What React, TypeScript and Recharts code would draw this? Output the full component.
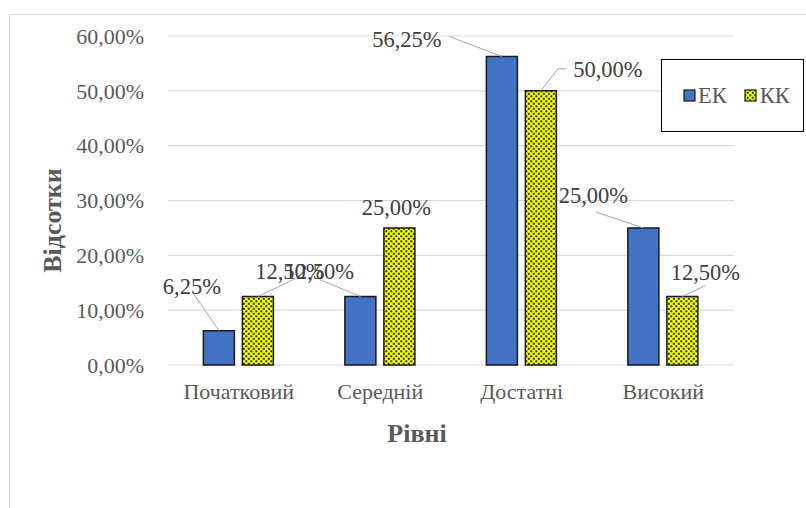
import React from 'react';
import { BarChart, Bar, XAxis, YAxis, CartesianGrid, LabelList } from 'recharts';

const levels = ['Початковий', 'Середній', 'Достатні', 'Високий'];
const ekValues = [6.25, 12.5, 56.25, 25];
const kkValues = [12.5, 25, 50, 12.5];
const yTicks = [0, 10, 20, 30, 40, 50, 60];

// label placement relative to bar top centre: text centre and leader end point
const ekLabelPos = [
  { dx: -27, dy: -44, lx: -26, ly: -38 },
  { dx: -41, dy: -25, lx: -41, ly: -17 },
  { dx: -95, dy: -17, lx: -52, ly: -20 },
  { dx: -50, dy: -32, lx: -48, ly: -16 },
];
const kkLabelPos = [
  { dx: 32, dy: -25, lx: 38, ly: -18 },
  { dx: -3, dy: -20, lx: null, ly: null },
  { dx: 67, dy: -21, lx: 17, ly: -22, elbow: 25 },
  { dx: 23, dy: -24, lx: 23, ly: -11 },
];

const data = levels.map((name, i) => ({ name, ek: ekValues[i], kk: kkValues[i] }));

const fmt = (v: number) => v.toFixed(2).replace('.', ',') + '%';
const FONT = 'Liberation Serif, DejaVu Serif, serif';

const makeLabel = (pos: typeof kkLabelPos) => (props: any) => {
  const { x, y, width, value, index } = props;
  const p = pos[index];
  const cx = x + width / 2;
  const ty = y;
  let line = null;
  if (p.lx !== null) {
    if (p.elbow) {
      line = (
        <polyline
          points={`${cx},${ty} ${cx + p.lx},${ty + p.ly} ${cx + p.elbow},${ty + p.ly}`}
          fill="none"
          stroke="#a6a6a6"
          strokeWidth={1}
        />
      );
    } else {
      line = <line x1={cx} y1={ty} x2={cx + p.lx} y2={ty + p.ly} stroke="#a6a6a6" strokeWidth={1} />;
    }
  }
  return (
    <g>
      {line}
      <text
        x={cx + p.dx}
        y={ty + p.dy}
        textAnchor="middle"
        dominantBaseline="central"
        style={{ fontFamily: FONT }}
        fontSize={22.5}
        fill="#404040"
      >
        {fmt(value)}
      </text>
    </g>
  );
};

const YTitle = (props: any) => {
  const { viewBox } = props;
  const x = 52;
  const y = viewBox.y + viewBox.height / 2 + 20;
  return (
    <text
      x={x}
      y={y}
      transform={`rotate(-90, ${x}, ${y})`}
      textAnchor="middle"
      dominantBaseline="central"
      style={{ fontFamily: FONT }}
      fontSize={26}
      fontWeight="bold"
      fill="#595959"
    >
      Відсотки
    </text>
  );
};

const XTitle = (props: any) => {
  const { viewBox } = props;
  const x = viewBox.x + viewBox.width / 2 - 34;
  return (
    <text
      x={x}
      y={433}
      textAnchor="middle"
      dominantBaseline="central"
      style={{ fontFamily: FONT }}
      fontSize={26}
      fontWeight="bold"
      fill="#595959"
    >
      Рівні
    </text>
  );
};

const LegendBox = () => (
  <div
    style={{
      position: 'absolute',
      left: 661,
      top: 59,
      width: 143,
      height: 73,
      border: '1.5px solid #000',
      background: '#fff',
      display: 'flex',
      alignItems: 'center',
      fontFamily: FONT,
      fontSize: 22.5,
      color: '#595959',
      boxSizing: 'border-box',
    }}
  >
    <svg width={14} height={14} style={{ marginLeft: 21 }}>
      <rect x={1} y={1} width={11} height={11} fill="#4472c4" stroke="#1a1a1a" strokeWidth={1.2} />
    </svg>
    <span style={{ marginLeft: 1 }}>ЕК</span>
    <svg width={14} height={14} style={{ marginLeft: 17 }}>
      <rect x={1} y={1} width={11} height={11} fill="url(#dots)" stroke="#1a1a1a" strokeWidth={1.2} />
    </svg>
    <span style={{ marginLeft: 2 }}>КК</span>
  </div>
);

export default function App() {
  return (
    <div style={{ position: 'absolute', left: 0, top: 0, width: 806, height: 508, overflow: 'hidden', background: '#fff', fontFamily: FONT }}>
      <div
        style={{
          position: 'absolute',
          left: 9,
          top: 14,
          width: 820,
          height: 520,
          border: '1px solid #d9d9d9',
        }}
      />
      <div style={{ position: 'absolute', left: 0, top: 0 }}>
        <BarChart
          width={806}
          height={508}
          data={data}
          margin={{ top: 36, right: 72, left: 0, bottom: 0 }}
          barCategoryGap="25%"
          barGap={8}
          style={{ fontFamily: FONT }}
        >
          <defs>
            <pattern id="dots" width={5} height={5} patternUnits="userSpaceOnUse">
              <rect width={5} height={5} fill="#ffff00" />
              <rect x={0.3} y={0.3} width={2} height={2} fill="#1a3510" />
              <rect x={2.8} y={2.8} width={2} height={2} fill="#1a3510" />
            </pattern>
          </defs>
          <CartesianGrid vertical={false} stroke="#d9d9d9" strokeWidth={1.2} />
          <XAxis
            dataKey="name"
            height={143}
            axisLine={false}
            tickLine={false}
            tickMargin={12}
            tick={{ fill: '#595959', fontSize: 22, style: { fontFamily: FONT } }}
            label={<XTitle />}
          />
          <YAxis
            width={168}
            domain={[0, 60]}
            ticks={yTicks}
            axisLine={false}
            tickLine={false}
            tickMargin={18}
            tickFormatter={fmt}
            tick={{ fill: '#595959', fontSize: 22, style: { fontFamily: FONT } }}
            label={<YTitle />}
          />
          <Bar dataKey="ek" name="ЕК" fill="#4472c4" stroke="#1a1a1a" strokeWidth={1.5} isAnimationActive={false}>
            <LabelList dataKey="ek" content={makeLabel(ekLabelPos)} />
          </Bar>
          <Bar dataKey="kk" name="КК" fill="url(#dots)" stroke="#1a1a1a" strokeWidth={1.5} isAnimationActive={false}>
            <LabelList dataKey="kk" content={makeLabel(kkLabelPos)} />
          </Bar>
        </BarChart>
      </div>
      <LegendBox />
    </div>
  );
}
